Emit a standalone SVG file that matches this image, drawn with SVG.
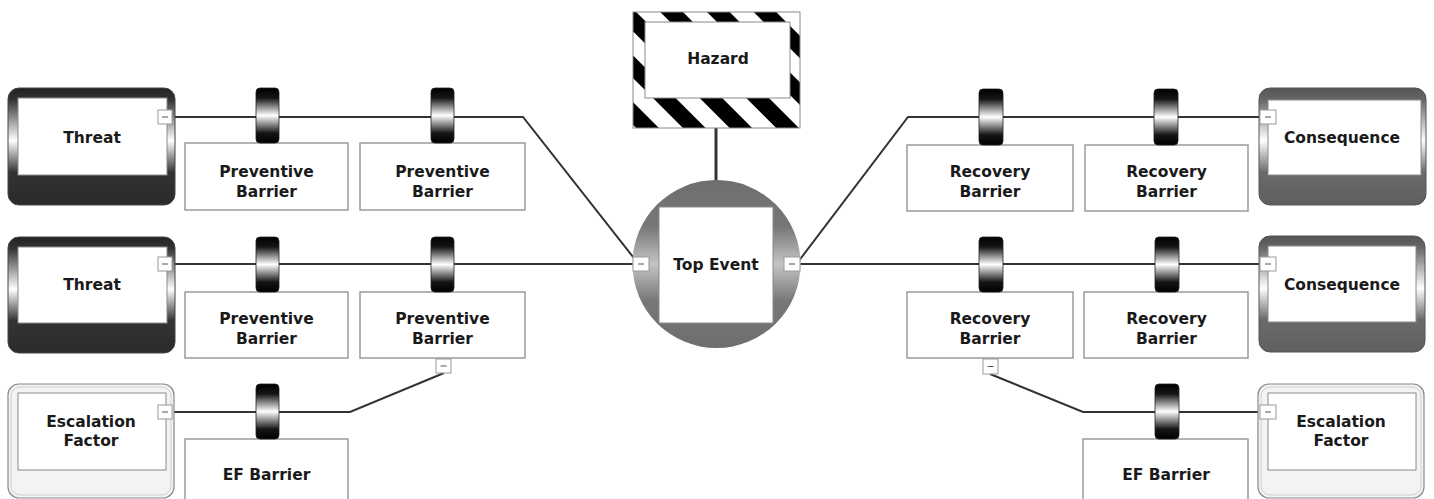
<svg xmlns="http://www.w3.org/2000/svg" width="1434" height="499" viewBox="0 0 1434 499">
<defs>
<style>
.lbl{font-family:"DejaVu Sans","Liberation Sans",sans-serif;font-weight:bold;font-size:15.5px;fill:#1a1a1a;text-anchor:middle}
.ln{fill:none;stroke:#333;stroke-width:2}
.bx{fill:#fff;stroke:#9a9a9a;stroke-width:1.5}
.in{fill:#fff;stroke:#8a8a8a;stroke-width:1}
.mb{fill:#fff;stroke:#999;stroke-width:1}
.dash{stroke:#555;stroke-width:1}
.knob{fill:url(#knobG);stroke:#222;stroke-width:0.8}
</style>
<linearGradient id="knobG" x1="0" y1="0" x2="0" y2="1">
<stop offset="0" stop-color="#000"/>
<stop offset="0.18" stop-color="#151515"/>
<stop offset="0.5" stop-color="#fff"/>
<stop offset="0.82" stop-color="#151515"/>
<stop offset="1" stop-color="#000"/>
</linearGradient>
<linearGradient id="thrG" x1="0" y1="0" x2="0" y2="1">
<stop offset="0" stop-color="#222"/>
<stop offset="0.1" stop-color="#333"/>
<stop offset="0.45" stop-color="#fff"/>
<stop offset="0.72" stop-color="#333"/>
<stop offset="1" stop-color="#2a2a2a"/>
</linearGradient>
<linearGradient id="conG" x1="0" y1="0" x2="0" y2="1">
<stop offset="0" stop-color="#555"/>
<stop offset="0.1" stop-color="#666"/>
<stop offset="0.45" stop-color="#fff"/>
<stop offset="0.72" stop-color="#6a6a6a"/>
<stop offset="1" stop-color="#5f5f5f"/>
</linearGradient>
<linearGradient id="topG" x1="0" y1="0" x2="0" y2="1">
<stop offset="0" stop-color="#6e6e6e"/>
<stop offset="0.28" stop-color="#777"/>
<stop offset="0.5" stop-color="#c4c4c4"/>
<stop offset="0.72" stop-color="#777"/>
<stop offset="1" stop-color="#6e6e6e"/>
</linearGradient>
<pattern id="haz" patternUnits="userSpaceOnUse" x="29.4" y="0" width="33" height="33" patternTransform="rotate(-45)">
<rect x="0" y="0" width="33" height="33" fill="#fff"/>
<rect x="0" y="0" width="16" height="33" fill="#000"/>
</pattern>
</defs>

<g id="connectors">
<line class="ln" x1="716" y1="128" x2="716" y2="182" style="stroke-width:3"/>
<polyline class="ln" points="171,117 523,117 637,262"/>
<polyline class="ln" points="171,264 634,264"/>
<polyline class="ln" points="171,412 350,412 444,373"/>
<polyline class="ln" points="1260,117 908,117 798,262"/>
<polyline class="ln" points="800,264 1260,264"/>
<polyline class="ln" points="1260,412 1083,412 990,374"/>
</g>

<g id="hazard">
<rect x="633" y="12" width="167" height="116" fill="url(#haz)" stroke="#888" stroke-width="1"/>
<rect x="645" y="22" width="145" height="76" class="in"/>
<text class="lbl" x="718" y="64">Hazard</text>
</g>

<g id="top-event">
<circle cx="716.5" cy="264" r="84" fill="url(#topG)"/>
<rect x="659" y="207" width="114" height="116" class="in"/>
<text class="lbl" x="716" y="270">Top Event</text>
<rect class="mb" x="633" y="257" width="16" height="14"/>
<line class="dash" x1="638" y1="264" x2="644" y2="264"/>
<rect class="mb" x="784" y="257" width="16" height="14"/>
<line class="dash" x1="789" y1="264" x2="795" y2="264"/>
</g>

<g id="threat-1">
<rect x="8" y="88" width="167" height="117" rx="11" fill="url(#thrG)" stroke="#444" stroke-width="1"/>
<rect x="18" y="98" width="149" height="77" class="in"/>
<text class="lbl" x="92" y="143">Threat</text>
<rect class="mb" x="158" y="110" width="14" height="14"/>
<line class="dash" x1="162" y1="117" x2="168" y2="117"/>
</g>

<g id="threat-2">
<rect x="8" y="237" width="167" height="116" rx="11" fill="url(#thrG)" stroke="#444" stroke-width="1"/>
<rect x="18" y="247" width="149" height="76" class="in"/>
<text class="lbl" x="92" y="290">Threat</text>
<rect class="mb" x="158" y="257" width="14" height="14"/>
<line class="dash" x1="162" y1="264" x2="168" y2="264"/>
</g>

<g id="escalation-left">
<rect x="8" y="384" width="166" height="114" rx="11" fill="#f3f3f3" stroke="#8a8a8a" stroke-width="1.2"/>
<rect x="11" y="387" width="160" height="108" rx="9" fill="none" stroke="#d0d0d0" stroke-width="1"/>
<rect x="18" y="393" width="148" height="77" class="in"/>
<text class="lbl" x="91" y="427">Escalation</text>
<text class="lbl" x="91" y="446">Factor</text>
<rect class="mb" x="158" y="405" width="14" height="14"/>
<line class="dash" x1="162" y1="412" x2="168" y2="412"/>
</g>

<g id="consequence-1">
<rect x="1259" y="88" width="167" height="117" rx="11" fill="url(#conG)" stroke="#555" stroke-width="1"/>
<rect x="1268" y="100" width="153" height="75" class="in"/>
<text class="lbl" x="1342" y="143">Consequence</text>
<rect class="mb" x="1260" y="110" width="16" height="14"/>
<line class="dash" x1="1265" y1="117" x2="1271" y2="117"/>
</g>

<g id="consequence-2">
<rect x="1259" y="236" width="166" height="116" rx="11" fill="url(#conG)" stroke="#555" stroke-width="1"/>
<rect x="1268" y="246" width="148" height="76" class="in"/>
<text class="lbl" x="1342" y="290">Consequence</text>
<rect class="mb" x="1260" y="257" width="16" height="14"/>
<line class="dash" x1="1265" y1="264" x2="1271" y2="264"/>
</g>

<g id="escalation-right">
<rect x="1258" y="384" width="166" height="114" rx="11" fill="#f3f3f3" stroke="#8a8a8a" stroke-width="1.2"/>
<rect x="1261" y="387" width="160" height="108" rx="9" fill="none" stroke="#d0d0d0" stroke-width="1"/>
<rect x="1268" y="393" width="148" height="77" class="in"/>
<text class="lbl" x="1341" y="427">Escalation</text>
<text class="lbl" x="1341" y="446">Factor</text>
<rect class="mb" x="1260" y="405" width="16" height="14"/>
<line class="dash" x1="1265" y1="412" x2="1271" y2="412"/>
</g>

<g id="pb-1-1">
<rect class="bx" x="185" y="143" width="163" height="67"/>
<rect class="knob" x="256" y="88" width="23" height="55" rx="4"/>
<text class="lbl" x="266.5" y="177">Preventive</text>
<text class="lbl" x="266.5" y="197">Barrier</text>
</g>
<g id="pb-1-2">
<rect class="bx" x="360" y="143" width="165" height="67"/>
<rect class="knob" x="431" y="88" width="23" height="55" rx="4"/>
<text class="lbl" x="442.5" y="177">Preventive</text>
<text class="lbl" x="442.5" y="197">Barrier</text>
</g>
<g id="pb-2-1">
<rect class="bx" x="185" y="292" width="163" height="66"/>
<rect class="knob" x="256" y="237" width="23" height="55" rx="4"/>
<text class="lbl" x="266.5" y="324">Preventive</text>
<text class="lbl" x="266.5" y="344">Barrier</text>
</g>
<g id="pb-2-2">
<rect class="bx" x="360" y="292" width="165" height="66"/>
<rect class="knob" x="431" y="237" width="23" height="55" rx="4"/>
<text class="lbl" x="442.5" y="324">Preventive</text>
<text class="lbl" x="442.5" y="344">Barrier</text>
<rect class="mb" x="436" y="359" width="15" height="14"/>
<line class="dash" x1="440.5" y1="366" x2="446.5" y2="366"/>
</g>
<g id="ef-barrier-left">
<rect class="bx" x="185" y="439" width="163" height="70"/>
<rect class="knob" x="256" y="384" width="23" height="55" rx="4"/>
<text class="lbl" x="266.5" y="480">EF Barrier</text>
</g>

<g id="rb-1-1">
<rect class="bx" x="907" y="145" width="166" height="66"/>
<rect class="knob" x="979" y="89" width="24" height="56" rx="4"/>
<text class="lbl" x="990" y="177">Recovery</text>
<text class="lbl" x="990" y="197">Barrier</text>
</g>
<g id="rb-1-2">
<rect class="bx" x="1085" y="145" width="163" height="66"/>
<rect class="knob" x="1154" y="89" width="24" height="56" rx="4"/>
<text class="lbl" x="1166.5" y="177">Recovery</text>
<text class="lbl" x="1166.5" y="197">Barrier</text>
</g>
<g id="rb-2-1">
<rect class="bx" x="907" y="292" width="166" height="66"/>
<rect class="knob" x="979" y="237" width="24" height="55" rx="4"/>
<text class="lbl" x="990" y="324">Recovery</text>
<text class="lbl" x="990" y="344">Barrier</text>
<rect class="mb" x="983" y="359" width="15" height="15"/>
<line class="dash" x1="987.5" y1="366.5" x2="993.5" y2="366.5"/>
</g>
<g id="rb-2-2">
<rect class="bx" x="1084" y="292" width="164" height="66"/>
<rect class="knob" x="1155" y="237" width="24" height="55" rx="4"/>
<text class="lbl" x="1166.5" y="324">Recovery</text>
<text class="lbl" x="1166.5" y="344">Barrier</text>
</g>
<g id="ef-barrier-right">
<rect class="bx" x="1083" y="439" width="165" height="70"/>
<rect class="knob" x="1155" y="384" width="24" height="55" rx="4"/>
<text class="lbl" x="1166" y="480">EF Barrier</text>
</g>
</svg>
